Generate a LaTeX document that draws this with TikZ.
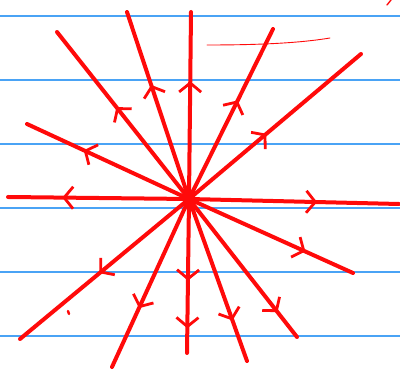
\documentclass[tikz,border=0pt]{standalone}
\usepackage{tikz}
\usetikzlibrary{arrows.meta,decorations.markings}
\definecolor{Pen}{HTML}{FF0A0A}
\definecolor{Rule}{HTML}{4AA3F5}
\tikzset{
  rule/.style={draw=Rule,line width=1.3pt},
  ray/.style={draw=Pen,line width=4pt,line cap=round},
  scribble/.style={draw=Pen,line width=0.9pt,line cap=round},
  midarrow/.style={postaction={decorate,decoration={markings,
    mark=at position #1 with {\arrow[Pen,line width=2.8pt]{Straight Barb[length=9pt,width=22pt]}}}}}
}
\begin{document}
\begin{tikzpicture}[x=1pt,y=-1pt]
\useasboundingbox (0,0) rectangle (400,371);
% notebook rules
\foreach \y in {16,80,144,208,272,336}
  \draw[rule] (0,\y) -- (400,\y);
% centre and ray ends
\coordinate (o) at (189,199);
\coordinate (w) at (8,197);
\coordinate (e) at (399,204);
\coordinate (n) at (191,12);
\coordinate (s) at (187,353);
\coordinate (nnw) at (127,12);
\coordinate (nw) at (57,32);
\coordinate (wnw) at (27,124);
\coordinate (nne) at (273,29);
\coordinate (ne) at (361,54);
\coordinate (ese) at (353,273);
\coordinate (se) at (297,337);
\coordinate (sse) at (247,361);
\coordinate (sw) at (20,339);
\coordinate (ssw) at (112,367);
% rays
\draw[ray,midarrow=0.70] (o) -- (w);
\draw[ray,midarrow=0.61] (o) -- (e);
\draw[ray,midarrow=0.63] (o) -- (n);
\draw[ray,midarrow=0.53,midarrow=0.84] (o) -- (s);
\draw[ray,midarrow=0.61] (o) -- (nnw);
\draw[ray,midarrow=0.55] (o) -- (nw);
\draw[ray,midarrow=0.65] (o) -- (wnw);
\draw[ray,midarrow=0.58] (o) -- (nne);
\draw[ray,midarrow=0.45] (o) -- (ne);
\draw[ray,midarrow=0.71] (o) -- (ese);
\draw[ray,midarrow=0.82] (o) -- (se);
\draw[ray,midarrow=0.75] (o) -- (sse);
\draw[ray,midarrow=0.53] (o) -- (sw);
\draw[ray,midarrow=0.65] (o) -- (ssw);
% stray pen marks
\draw[scribble] (207,45) .. controls (260,45) and (300,43) .. (330,38);
\draw[scribble,line width=1.4pt] (387,5) -- (391,0);
\draw[scribble,line width=2.4pt] (68,311) -- (69,314);
\end{tikzpicture}
\end{document}
